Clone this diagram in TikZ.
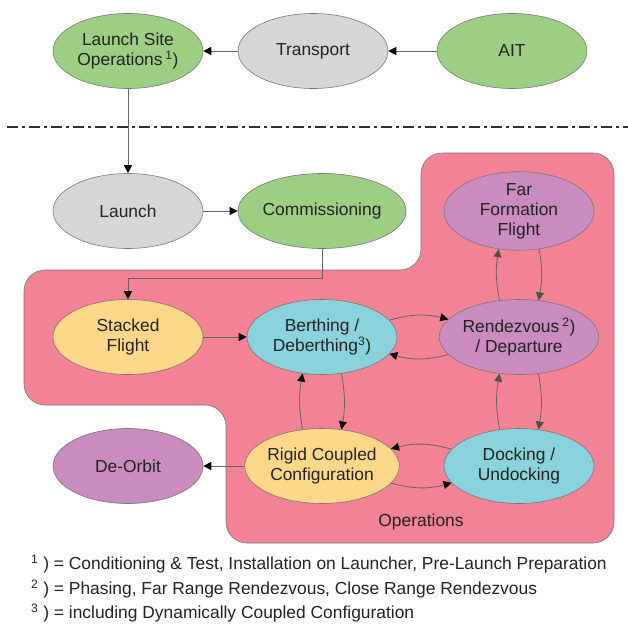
\documentclass[tikz,border=0pt]{standalone}
\usepackage{fontspec}
\setmainfont{Liberation Sans}
\usetikzlibrary{arrows.meta,shapes.geometric}
\definecolor{cgreen}{RGB}{156,207,130}
\definecolor{cgrey}{RGB}{214,214,214}
\definecolor{cpink}{RGB}{242,130,148}
\definecolor{cyellow}{RGB}{254,216,136}
\definecolor{ccyan}{RGB}{138,210,222}
\definecolor{cpurple}{RGB}{201,139,192}
\definecolor{cedge}{RGB}{120,120,120}
\definecolor{cline}{RGB}{100,100,100}
\definecolor{chead}{RGB}{80,80,80}
\definecolor{ctext}{RGB}{35,35,35}
\begin{document}
\begin{tikzpicture}[x=1pt,y=1pt,
  st/.style={ellipse,draw=cedge,line width=0.6pt,minimum width=150pt,minimum height=75pt,
    inner sep=0pt,align=center,font=\fontsize{17.4}{20}\selectfont,text=ctext},
  con/.style={draw=cline,line width=0.8pt,-{Triangle[length=8pt,width=8pt,fill=black,color=black]}},
  cong/.style={draw=cline,line width=0.8pt,-{Triangle[length=8pt,width=8pt,fill=chead,color=chead]}},
  lbl/.style={font=\fontsize{17.4}{20}\selectfont,text=ctext,inner sep=0pt},
  dashline/.style={draw=black!80,line width=1.8pt,dash pattern=on 11pt off 4pt on 3pt off 4pt}
]
\useasboundingbox (0,0) rectangle (628,-623);

% operations region
\filldraw[fill=cpink,draw=cedge,line width=0.6pt,rounded corners=21pt]
  (517,-153) -- (614,-153) -- (614,-543) -- (226,-543) -- (226,-405) -- (24,-405)
  -- (24,-270) -- (421,-270) -- (421,-153) -- cycle;

% dash-dot separator
\coordinate (dl1) at (7,-127);
\coordinate (dl2) at (628,-127);
\draw[dashline] (dl1) -- (dl2);

% nodes
\node[st,fill=cgreen] (lso) at (128,-51) {Launch Site\\Operations\,\textsuperscript{1})};
\node[st,fill=cgrey] (trans) at (313,-51) {Transport};
\node[st,fill=cgreen] (ait) at (512,-51) {AIT};

\node[st,fill=cgrey] (launch) at (128,-211) {Launch};
\node[st,fill=cgreen] (comm) at (322,-211) {Commissioning};
\node[st,fill=cpurple] (fff) at (519,-211) {Far\\Formation\\Flight};

\node[st,fill=cyellow] (stacked) at (128,-337) {Stacked\\Flight};
\node[st,fill=ccyan] (bert) at (322,-337) {Berthing /\\Deberthing\textsuperscript{3})};
\node[st,fill=cpurple] (rdv) at (519,-337) {Rendezvous\,\textsuperscript{2})\\/ Departure};

\node[st,fill=cpurple] (deorbit) at (128,-466) {De-Orbit};
\node[st,fill=cyellow] (rigid) at (322,-466) {Rigid Coupled\\Configuration};
\node[st,fill=ccyan] (dock) at (519,-466) {Docking /\\Undocking};

\node[lbl] (ops) at (421,-522) {Operations};

% legend
\node[lbl,anchor=west] (leg1) at (31,-564) {\textsuperscript{1} ) = Conditioning \& Test, Installation on Launcher, Pre-Launch Preparation};
\node[lbl,anchor=west] (leg2) at (31,-589) {\textsuperscript{2} ) = Phasing, Far Range Rendezvous, Close Range Rendezvous};
\node[lbl,anchor=west] (leg3) at (31,-613) {\textsuperscript{3} ) = including Dynamically Coupled Configuration};

% connectors
\draw[con] (ait) -- (trans);
\draw[con] (trans) -- (lso);
\draw[con] (lso) -- (launch);
\draw[con] (launch) -- (comm);
\draw[con] (comm.south) -- ++(0,-30) -| (stacked.north);
\draw[con] (stacked) -- (bert);
\draw[con] (rigid) -- (deorbit);

\draw[con] (bert.14) to[bend left=15] (rdv.166);
\draw[con] (rdv.-166) to[bend left=15] (bert.-14);

\draw[cong] (rdv.118) to[bend left=10] (fff.-118);
\draw[cong] (fff.-62) to[bend left=10] (rdv.62);

\draw[con] (rigid.118) to[bend left=10] (bert.-118);
\draw[con] (bert.-62) to[bend left=10] (rigid.62);

\draw[cong] (dock.118) to[bend left=10] (rdv.-118);
\draw[cong] (rdv.-62) to[bend left=10] (dock.62);

\draw[con] (dock.166) to[bend right=15] (rigid.14);
\draw[con] (rigid.-14) to[bend right=15] (dock.-166);
\end{tikzpicture}
\end{document}
